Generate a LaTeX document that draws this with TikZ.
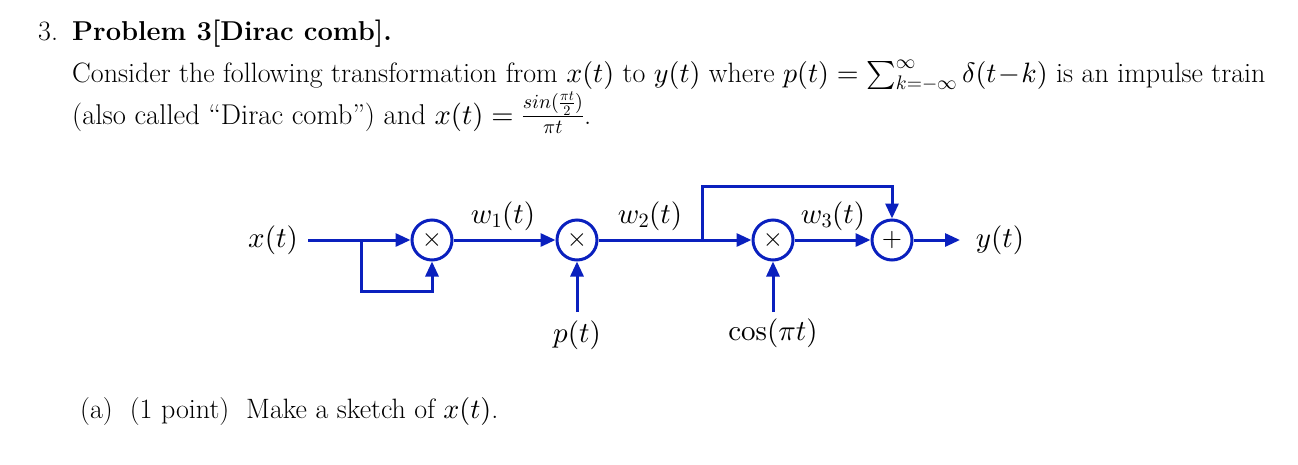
\documentclass[tikz,border=0pt]{standalone}
\DeclareFontShape{OML}{cmm}{m}{it}{<-8.5>cmmi7<8.5->cmmi10}{}
\DeclareFontShape{OMS}{cmsy}{m}{n}{<-8.5>cmsy7<8.5->cmsy10}{}
\DeclareFontShape{OMX}{cmex}{m}{n}{<->cmex10}{}
\DeclareFontShape{OT1}{cmr}{m}{n}{<-8.5>cmr7<8.5->cmr10}{}
\usetikzlibrary{arrows.meta}
\definecolor{sigblue}{RGB}{10,32,190}
\begin{document}
\begin{tikzpicture}[x=1pt,y=-1pt,
  txt/.style={anchor=base west,inner sep=0pt,font=\fontsize{28}{42}\selectfont},
  lbl/.style={inner sep=0pt,font=\fontsize{29}{42}\selectfont},
  opnode/.style={circle,draw=sigblue,line width=3pt,minimum size=40pt,inner sep=0pt,font=\fontsize{26}{30}\selectfont},
  sig/.style={draw=sigblue,line width=3pt,-{Triangle[length=15pt,width=13pt]}},
  wire/.style={draw=sigblue,line width=3pt}]
\useasboundingbox (0,0) rectangle (1298,464);
% text
\node[txt] (num) at (38,40) {3.};
\node[txt,font=\fontsize{27.3}{42}\selectfont] (title) at (72,40) {\textbf{Problem 3[Dirac comb].}};
\node[txt] (l1) at (72,82) {Consider the following transformation from $x(t)$ to $y(t)$ where $p(t)=\sum_{k=-\infty}^{\infty}\delta(t\!-\!k)$ is an impulse train};
\node[txt,font=\fontsize{28.6}{42}\selectfont] (l2) at (72,124) {(also called ``Dirac comb'') and $x(t)=\frac{sin(\frac{\pi t}{2})}{\pi t}$.};
\node[txt] (qa) at (80,418) {(a)\ \ (1 point)\ \ Make a sketch of $x(t)$.};
% diagram
\node[lbl] (x) at (273,240) {$x(t)$};
\node[opnode] (m1) at (432,240) {$\times$};
\node[opnode] (m2) at (577,240) {$\times$};
\node[opnode] (m3) at (773,240) {$\times$};
\node[opnode] (ad) at (892,240) {$+$};
\node[lbl] (y) at (1000,240) {$y(t)$};
\node[lbl] (p) at (577,335) {$p(t)$};
\node[lbl] (c) at (773,333) {$\cos(\pi t)$};
\node[lbl] (w1) at (503,216) {$w_1(t)$};
\node[lbl] (w2) at (650,216) {$w_2(t)$};
\node[lbl] (w3) at (833,216) {$w_3(t)$};
\coordinate (xs) at (308,240);
\coordinate (b1) at (361,240);
\coordinate (b2) at (702,240);
\coordinate (ps) at (577,312);
\coordinate (cs) at (773,312);
\coordinate (ye) at (960,240);
\draw[sig] (xs) -- (m1);
\draw[sig] (b1) -- (361,291) -| (m1);
\draw[sig] (m1) -- (m2);
\draw[wire] (m2) -- (b2);
\draw[sig] (b2) -- (m3);
\draw[sig] (b2) -- (702,186) -| (ad);
\draw[sig] (m3) -- (ad);
\draw[sig] (ad) -- (ye);
\draw[sig] (ps) -- (m2);
\draw[sig] (cs) -- (m3);
\end{tikzpicture}
\end{document}
